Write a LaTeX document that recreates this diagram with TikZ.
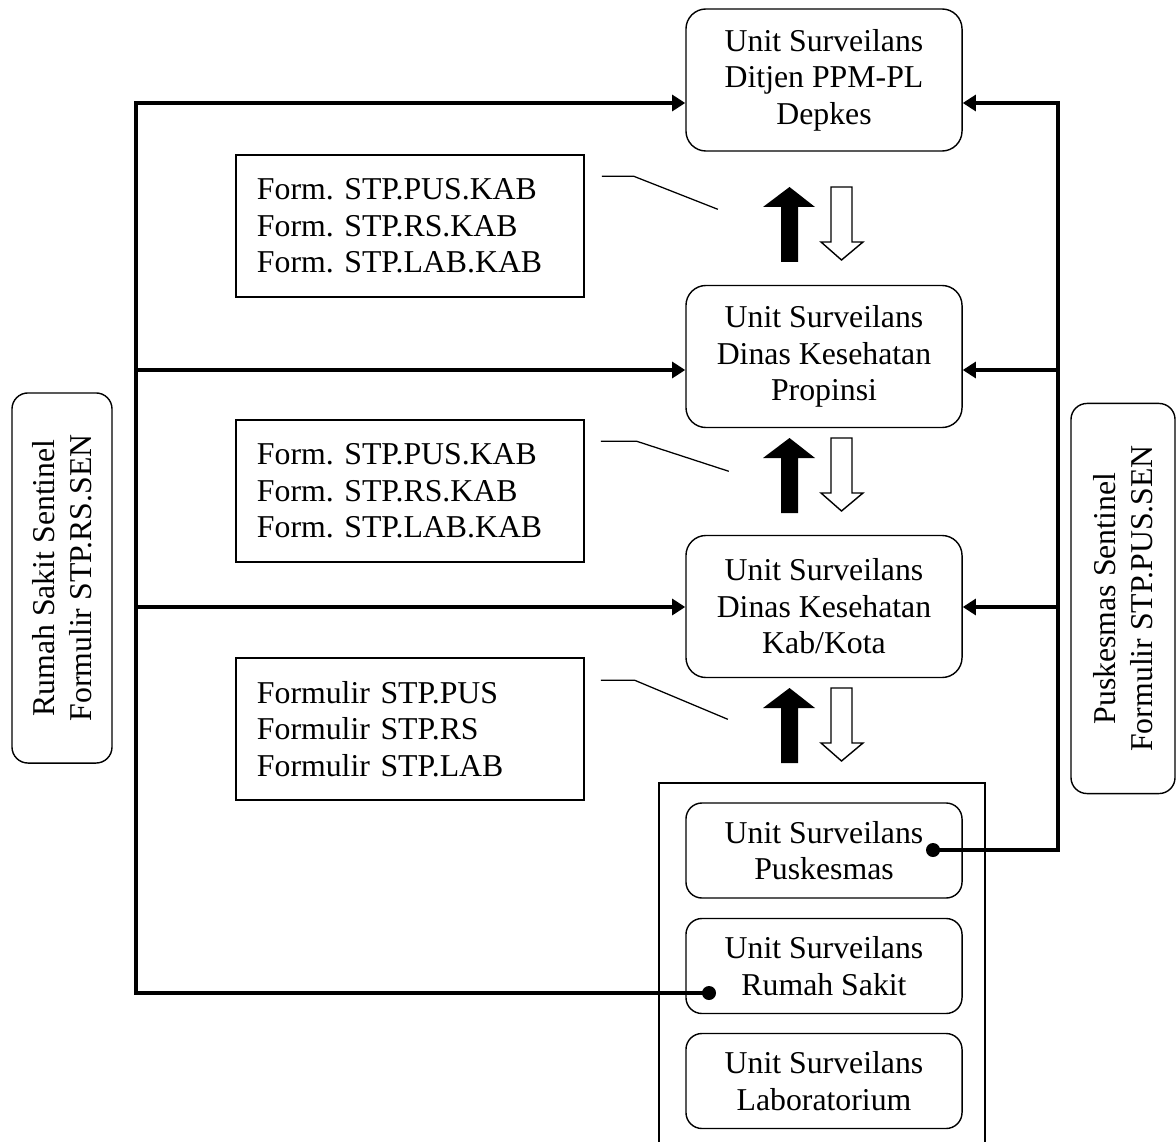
\documentclass[tikz,border=0pt]{standalone}
\usepackage{fontspec}
\setmainfont{Liberation Serif}
\usetikzlibrary{arrows.meta}
\frenchspacing

\tikzset{
  unitbox/.style={draw, rounded corners=0.5cm, line width=1pt, align=center, inner sep=0pt, minimum width=6.9cm, minimum height=3.55cm},
  unitsmall/.style={unitbox, rounded corners=0.4cm, minimum height=2.375cm},
  formbox/.style={draw, rectangle, line width=1pt, align=left, text width=7.65cm, inner xsep=0.525cm, inner ysep=0pt, minimum height=3.55cm},
  sidebox/.style={draw, rounded corners=0.4cm, line width=1pt, align=center, rotate=90, inner sep=0pt},
  bus/.style={line width=2.8pt},
  busarrow/.style={-{Triangle[length=0.33cm, width=0.4cm]}},
  joint/.style={circle, fill, inner sep=0pt, minimum size=0.35cm},
  leader/.style={line width=0.9pt},
}

\begin{document}
\begin{tikzpicture}[x=0.025cm, y=-0.025cm, font=\fontsize{22.6}{25.9}\selectfont]
	\useasboundingbox (0,0) rectangle (1176,1142);

	% Nodes
	\node[unitbox] (ditjen) at (824,80) {Unit Surveilans\\Ditjen PPM-PL\\Depkes};
	\node[unitbox] (propinsi) at (824,356.5) {Unit Surveilans\\Dinas Kesehatan\\Propinsi};
	\node[unitbox] (kabkota) at (824,606.5) {Unit Surveilans\\Dinas Kesehatan\\Kab/Kota};
	\node[unitsmall] (puskesmas) at (824,850.5) {Unit Surveilans\\Puskesmas};
	\node[unitsmall] (rumahsakit) at (824,966) {Unit Surveilans\\Rumah Sakit};
	\node[unitsmall] (lab) at (824,1081) {Unit Surveilans\\Laboratorium};

	\node[formbox] (formprop) at (410,226) {Form. STP.PUS.KAB\\Form. STP.RS.KAB\\Form. STP.LAB.KAB\\[-0.2cm]};
	\node[formbox] (formkab) at (410,491) {Form. STP.PUS.KAB\\Form. STP.RS.KAB\\Form. STP.LAB.KAB\\[-0.2cm]};
	\node[formbox] (formpus) at (410,729) {Formulir STP.PUS\\Formulir STP.RS\\Formulir STP.LAB\\[-0.2cm]};

	\node[sidebox, minimum width=9.25cm, minimum height=2.5cm] (rssen) at (62,578) {Rumah Sakit Sentinel\\Formulir STP.RS.SEN};
	\node[sidebox, minimum width=9.75cm, minimum height=2.6cm] (pussen) at (1123,598.5) {Puskesmas Sentinel\\Formulir STP.PUS.SEN};

	% Frame round the lower units
	\draw[line width=1pt] (659,1142) |- (985,783) -- (985,1142);

	\node[joint] (rsdot) at (709,993) {};
	\node[joint] (pkmdot) at (933,850) {};

	\coordinate (lefttop) at (136,103);
	\coordinate (leftmid) at (136,370);
	\coordinate (leftlow) at (136,607);
	\coordinate (leftbot) at (136,993);
	\coordinate (righttop) at (1058,103);
	\coordinate (rightmid) at (1058,370);
	\coordinate (rightlow) at (1058,607);
	\coordinate (rightbot) at (1058,850);

	% Arrows
	\draw[bus, busarrow] (rsdot.center) -- (leftbot) -- (lefttop) -- (lefttop -| ditjen.west);
	\draw[bus, busarrow] (leftmid) -- (leftmid -| propinsi.west);
	\draw[bus, busarrow] (leftlow) -- (leftlow -| kabkota.west);
	\draw[bus, busarrow] (pkmdot.center) -- (rightbot) -- (righttop) -- (righttop -| ditjen.east);
	\draw[bus, busarrow] (rightmid) -- (rightmid -| propinsi.east);
	\draw[bus, busarrow] (rightlow) -- (rightlow -| kabkota.east);

	% Up and down block arrows
	\foreach \t in {187,438,688} {
		\fill (781,\t+75) -- (781,\t+20) -- (763,\t+20) -- (789.5,\t) -- (815,\t+20) -- (798,\t+20) -- (798,\t+75) -- cycle;
		\draw[line width=1pt, line join=miter] (831,\t) -- (852,\t) -- (852,\t+55) -- (863,\t+55) -- (841.5,\t+73) -- (821,\t+55) -- (831,\t+55) -- cycle;
	}

	% Leaders
	\draw[leader] ([xshift=0.425cm, yshift=-0.55cm]formprop.north east) -- ++(0.8cm,0) -- ++(2.1cm,-0.825cm);
	\draw[leader] ([xshift=0.4cm, yshift=-0.55cm]formkab.north east) -- ++(0.9cm,0) -- ++(2.3cm,-0.75cm);
	\draw[leader] ([xshift=0.4cm, yshift=-0.575cm]formpus.north east) -- ++(0.85cm,0) -- ++(2.325cm,-0.975cm);
\end{tikzpicture}
\end{document}
